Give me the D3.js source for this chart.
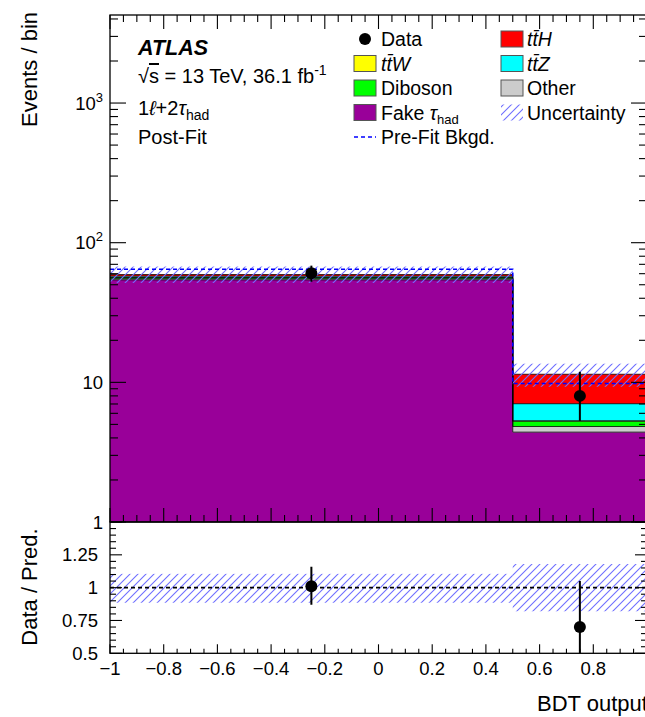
<!DOCTYPE html>
<head>
<meta charset="utf-8">
<style>
    body { margin: 0; background: #fff; }
    text { font-family: "Liberation Sans", Arial, Helvetica, sans-serif; fill: #000; }
</style>
<script src="https://d3js.org/d3.v7.min.js"></script>
</head>
<body>
<script>
    // bins of the BDT output
    const binEdges = [-1, 0.5, 1];
    const binCentres = [-0.25, 0.75];

    // post-fit yields per bin (stacked bottom to top)
    const fakeTau = [54.2, 4.4];
    const other = [0.9, 0.43];
    const diboson = [0.9, 0.44];
    const ttW = [0.4, 0.03];
    const ttZ = [1.2, 1.73];
    const ttH = [1.5, 4.4];

    const dataCounts = [60.5, 8.0];
    const dataErrLo = [52.5, 5.3];
    const dataErrHi = [68.5, 11.9];
    const uncLo = [51.5, 9.3];
    const uncHi = [67.5, 13.6];
    const preFit = [64.5, 9.8];

    // ratio pane
    const ratio = [1.01, 0.70];
    const ratioErrLo = [0.87, 0.44];
    const ratioErrHi = [1.16, 1.05];
    const ratioUncLo = [0.885, 0.82];
    const ratioUncHi = [1.105, 1.18];

    const xMajor = [-1, -0.8, -0.6, -0.4, -0.2, 0, 0.2, 0.4, 0.6, 0.8];
    const xLabels = ['\u22121', '\u22120.8', '\u22120.6', '\u22120.4', '\u22120.2', '0', '0.2', '0.4', '0.6', '0.8'];
    const ratioTicks = [0.5, 0.75, 1, 1.25];
    const ratioLabels = ['0.5', '0.75', '1', '1.25'];

    const W = 645, H = 717;
    const L = 110, R = 647, T = 15, MB = 522, RB = 653.3;

    const x = d3.scaleLinear().domain([-1, 1]).range([L, R]);
    const y = d3.scaleLog().domain([1, 4270]).range([MB, T]);
    const yr = d3.scaleLinear().domain([0.5, 1.5]).range([RB, MB]);

    const svg = d3.select('body').append('svg')
        .attr('width', W).attr('height', H);

    const defs = svg.append('defs');
    const pat = defs.append('pattern')
        .attr('id', 'hatch')
        .attr('patternUnits', 'userSpaceOnUse')
        .attr('width', 8).attr('height', 8);
    pat.append('path')
        .attr('d', 'M0,8 L8,0 M-2,2 L2,-2 M6,10 L10,6')
        .attr('stroke', '#6f6fff')
        .attr('stroke-width', 1.1);

    defs.append('clipPath').attr('id', 'clipMain')
        .append('rect').attr('x', L).attr('y', T).attr('width', R - L).attr('height', MB - T);
    defs.append('clipPath').attr('id', 'clipRatio')
        .append('rect').attr('x', L).attr('y', MB).attr('width', R - L).attr('height', RB - MB);

    // stack
    const keys = ['fake', 'other', 'diboson', 'ttW', 'ttZ', 'ttH'];
    const colors = {fake: '#990099', other: '#cccccc', diboson: '#00ff00', ttW: '#ffff00', ttZ: '#00ffff', ttH: '#ff0000'};
    const table = binCentres.map((c, i) => ({
        i: i, fake: fakeTau[i], other: other[i], diboson: diboson[i],
        ttW: ttW[i], ttZ: ttZ[i], ttH: ttH[i]
    }));
    const series = d3.stack().keys(keys)(table);

    const main = svg.append('g').attr('clip-path', 'url(#clipMain)');

    // each component as one stepped area over all bins
    const stepArea = d3.area()
        .x(d => x(d.e))
        .y0(d => d.lo <= 1 ? MB + 2 : y(d.lo))
        .y1(d => y(d.hi))
        .curve(d3.curveStepAfter);
    const step = d3.line().x(d => x(d[0])).y(d => y(d[1])).curve(d3.curveStepAfter);

    series.forEach(s => {
        const pts = binEdges.map((e, i) => {
            const b = s[Math.min(i, s.length - 1)];
            return {e: e, lo: b[0], hi: b[1]};
        });
        main.append('path')
            .attr('d', stepArea(pts))
            .attr('fill', colors[s.key]);
    });

    // histogram outlines (step lines at each cumulative level)
    series.forEach(s => {
        const pts = binEdges.map((e, i) => [e, s[Math.min(i, s.length - 1)][1]]);
        main.append('path')
            .attr('d', step(pts))
            .attr('fill', 'none')
            .attr('stroke', '#000')
            .attr('stroke-width', 0.8);
    });

    // uncertainty band
    main.selectAll(null).data(binCentres).enter().append('rect')
        .attr('x', (d, i) => x(binEdges[i]))
        .attr('width', (d, i) => x(binEdges[i + 1]) - x(binEdges[i]))
        .attr('y', (d, i) => y(uncHi[i]))
        .attr('height', (d, i) => y(uncLo[i]) - y(uncHi[i]))
        .attr('fill', 'url(#hatch)');

    // pre-fit background
    const preFitPts = binEdges.map((e, i) => [e, preFit[Math.min(i, preFit.length - 1)]]);
    main.append('path')
        .attr('d', step(preFitPts))
        .attr('fill', 'none')
        .attr('stroke', '#0000ff')
        .attr('stroke-width', 1.6)
        .attr('stroke-dasharray', '4,3');

    // data
    main.selectAll(null).data(binCentres).enter().append('line')
        .attr('x1', d => x(d)).attr('x2', d => x(d))
        .attr('y1', (d, i) => y(dataErrHi[i])).attr('y2', (d, i) => y(dataErrLo[i]))
        .attr('stroke', '#000').attr('stroke-width', 2);
    main.selectAll(null).data(binCentres).enter().append('circle')
        .attr('cx', d => x(d)).attr('cy', (d, i) => y(dataCounts[i]))
        .attr('r', 6).attr('fill', '#000');

    // ratio pane
    const rp = svg.append('g').attr('clip-path', 'url(#clipRatio)');
    rp.selectAll(null).data(binCentres).enter().append('rect')
        .attr('x', (d, i) => x(binEdges[i]))
        .attr('width', (d, i) => x(binEdges[i + 1]) - x(binEdges[i]))
        .attr('y', (d, i) => yr(ratioUncHi[i]))
        .attr('height', (d, i) => yr(ratioUncLo[i]) - yr(ratioUncHi[i]))
        .attr('fill', 'url(#hatch)');
    rp.append('line')
        .attr('x1', L).attr('x2', R).attr('y1', yr(1)).attr('y2', yr(1))
        .attr('stroke', '#000').attr('stroke-width', 1.6).attr('stroke-dasharray', '4,3');
    rp.selectAll(null).data(binCentres).enter().append('line')
        .attr('x1', d => x(d)).attr('x2', d => x(d))
        .attr('y1', (d, i) => yr(ratioErrHi[i])).attr('y2', (d, i) => yr(ratioErrLo[i]))
        .attr('stroke', '#000').attr('stroke-width', 2);
    rp.selectAll(null).data(binCentres).enter().append('circle')
        .attr('cx', d => x(d)).attr('cy', (d, i) => yr(ratio[i]))
        .attr('r', 6).attr('fill', '#000');

    // frames
    const axisColor = '#000';
    svg.append('rect').attr('x', L).attr('y', T).attr('width', R - L).attr('height', MB - T)
        .attr('fill', 'none').attr('stroke', axisColor).attr('stroke-width', 1.3);
    svg.append('rect').attr('x', L).attr('y', MB).attr('width', R - L).attr('height', RB - MB)
        .attr('fill', 'none').attr('stroke', axisColor).attr('stroke-width', 1.3);

    const ticks = svg.append('g').attr('stroke', axisColor).attr('stroke-width', 1.1);
    function tick(x1, y1, x2, y2) {
        ticks.append('line').attr('x1', x1).attr('y1', y1).attr('x2', x2).attr('y2', y2);
    }

    // x ticks
    const xMinor = d3.range(-1, 1.0001, 0.05);
    xMinor.forEach(v => {
        const major = Math.abs(Math.round(v * 5) - v * 5) < 1e-6;
        const px = x(v);
        tick(px, MB, px, MB - (major ? 14 : 7));
        tick(px, T, px, T + (major ? 14 : 7));
        tick(px, RB, px, RB - (major ? 9 : 4.5));
    });

    // log y ticks
    const yTicks = [];
    [1, 10, 100, 1000].forEach(dec => d3.range(1, 10).forEach(m => yTicks.push(dec * m)));
    yTicks.filter(v => v <= 4270).forEach(v => {
        const major = [1, 10, 100, 1000].includes(v);
        const py = y(v);
        tick(L, py, L + (major ? 16 : 8), py);
        tick(R, py, R - (major ? 16 : 8), py);
    });

    // ratio y ticks
    d3.range(0.5, 1.5001, 0.05).forEach(v => {
        const major = Math.abs(Math.round(v * 4) - v * 4) < 1e-6;
        const py = yr(v);
        tick(L, py, L + (major ? 12 : 6), py);
        tick(R, py, R - (major ? 12 : 6), py);
    });

    // tick labels
    svg.selectAll(null).data(xMajor).enter().append('text')
        .attr('x', d => x(d)).attr('y', 675)
        .attr('text-anchor', 'middle').attr('font-size', 18.5)
        .text((d, i) => xLabels[i]);

    svg.selectAll(null).data(ratioTicks).enter().append('text')
        .attr('x', 98).attr('y', d => yr(d) + 6.5)
        .attr('text-anchor', 'end').attr('font-size', 18.5)
        .text((d, i) => ratioLabels[i]);

    const yLab = [[1, '1', ''], [10, '10', ''], [100, '10', '2'], [1000, '10', '3']];
    yLab.forEach(([v, base, sup]) => {
        const t = svg.append('text')
            .attr('x', 103).attr('y', y(v) + 6.5)
            .attr('text-anchor', 'end').attr('font-size', 18.5);
        t.append('tspan').text(base);
        if (sup) t.append('tspan').attr('dy', -8).attr('font-size', 13).text(sup);
    });

    // axis titles
    svg.append('text')
        .attr('transform', 'translate(37,12) rotate(-90)')
        .attr('text-anchor', 'end').attr('font-size', 22)
        .text('Events / bin');
    svg.append('text')
        .attr('transform', 'translate(37,587) rotate(-90)')
        .attr('text-anchor', 'middle').attr('font-size', 22)
        .text('Data / Pred.');
    svg.append('text')
        .attr('x', 537).attr('y', 711).attr('font-size', 22)
        .text('BDT output');

    // ATLAS label block
    svg.append('text').attr('x', 138).attr('y', 54.5)
        .attr('font-size', 21.5).attr('font-weight', 'bold').attr('font-style', 'italic')
        .text('ATLAS');
    const lumi = svg.append('text').attr('x', 138).attr('y', 83).attr('font-size', 20);
    lumi.append('tspan').text('\u221A');
    lumi.append('tspan').attr('text-decoration', 'overline').text('s');
    lumi.append('tspan').text(' = 13 TeV, 36.1 fb');
    lumi.append('tspan').attr('dy', -8).attr('font-size', 14).text('-1');

    const chan = svg.append('text').attr('x', 138).attr('y', 115).attr('font-size', 20);
    chan.append('tspan').text('1');
    chan.append('tspan').attr('font-style', 'italic').text('\u2113');
    chan.append('tspan').text('+2');
    chan.append('tspan').attr('font-style', 'italic').text('\u03C4');
    chan.append('tspan').attr('dy', 5).attr('font-size', 14).text('had');

    svg.append('text').attr('x', 138).attr('y', 144).attr('font-size', 20)
        .text('Post-Fit');

    // legend
    const legend = svg.append('g').attr('font-size', 19.5);
    const rowY = [39, 63.5, 88, 112.5, 137];
    function box(xp, yc, fill) {
        legend.append('rect').attr('x', xp).attr('y', yc - 8).attr('width', 22).attr('height', 16)
            .attr('fill', fill).attr('stroke', fill === 'url(#hatch)' ? 'none' : '#555').attr('stroke-width', 1);
    }
    function label(xp, yc, parts) {
        const t = legend.append('text').attr('x', xp).attr('y', yc + 7);
        parts.forEach(p => {
            const s = t.append('tspan').text(p[0]);
            if (p[1] === 'i') s.attr('font-style', 'italic');
            if (p[1] === 'sub') s.attr('dy', 4).attr('font-size', 13);
        });
    }
    legend.append('circle').attr('cx', 365).attr('cy', rowY[0]).attr('r', 6).attr('fill', '#000');
    label(381, rowY[0], [['Data']]);
    box(354, rowY[1], colors.ttW);
    label(381, rowY[1], [['tt\u0304W', 'i']]);
    box(354, rowY[2], colors.diboson);
    label(381, rowY[2], [['Diboson']]);
    box(354, rowY[3], colors.fake);
    label(381, rowY[3], [['Fake '], ['\u03C4', 'i'], ['had', 'sub']]);
    legend.append('line').attr('x1', 354).attr('x2', 376).attr('y1', rowY[4]).attr('y2', rowY[4])
        .attr('stroke', '#0000ff').attr('stroke-width', 1.6).attr('stroke-dasharray', '4,3');
    label(381, rowY[4], [['Pre-Fit Bkgd.']]);

    box(501, rowY[0], colors.ttH);
    label(527, rowY[0], [['tt\u0304H', 'i']]);
    box(501, rowY[1], colors.ttZ);
    label(527, rowY[1], [['tt\u0304Z', 'i']]);
    box(501, rowY[2], colors.other);
    label(527, rowY[2], [['Other']]);
    box(501, rowY[3], 'url(#hatch)');
    label(527, rowY[3], [['Uncertainty']]);
</script>
</body>
